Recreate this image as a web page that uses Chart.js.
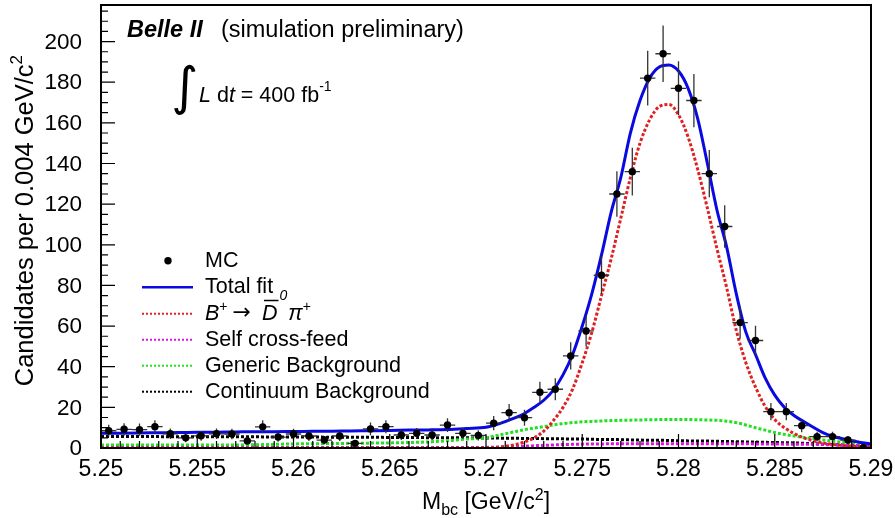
<!DOCTYPE html>
<html>
<head>
<meta charset="utf-8">
<script src="https://cdn.jsdelivr.net/npm/chart.js@4.4.1/dist/chart.umd.min.js"></script>
<style>
  html, body { margin: 0; padding: 0; background: #fff; }
  canvas { display: block; }
</style>
</head>
<body>
<canvas id="c" width="895" height="518"></canvas>
<script>
// ---------------- DATA ----------------
const xTickValues = [5.25, 5.255, 5.26, 5.265, 5.27, 5.275, 5.28, 5.285, 5.29];
const xTickLabels = ["5.25", "5.255", "5.26", "5.265", "5.27", "5.275", "5.28", "5.285", "5.29"];
const yTickValues = [0, 20, 40, 60, 80, 100, 120, 140, 160, 180, 200];
const yTickLabels = ["0", "20", "40", "60", "80", "100", "120", "140", "160", "180", "200"];

// MC histogram (bin centres, contents, errors)
const mcX = [5.2504, 5.2512, 5.2520, 5.2528, 5.2536, 5.2544, 5.2552, 5.2560, 5.2568, 5.2576,
             5.2584, 5.2592, 5.2600, 5.2608, 5.2616, 5.2624, 5.2632, 5.2640, 5.2648, 5.2656,
             5.2664, 5.2672, 5.2680, 5.2688, 5.2696, 5.2704, 5.2712, 5.2720, 5.2728, 5.2736,
             5.2744, 5.2752, 5.2760, 5.2768, 5.2776, 5.2784, 5.2792, 5.2800, 5.2808, 5.2816,
             5.2824, 5.2832, 5.2840, 5.2848, 5.2856, 5.2864, 5.2872, 5.2880, 5.2888, 5.2896];
const mcCounts = [8.5, 9.2, 9.0, 10.5, 7.0, 5.0, 6.0, 7.0, 6.9, 3.5,
                  10.4, 5.4, 6.9, 5.9, 3.9, 5.9, 2.3, 9.4, 10.5, 6.4,
                  7.2, 6.4, 11.3, 7.2, 6.2, 12.2, 17.4, 14.9, 27.4, 28.9,
                  45.3, 57.6, 85, 125, 136, 182, 194, 177, 171, 135,
                  109, 61.7, 52.9, 17.9, 17.9, 11, 5.6, 5.6, 3.9, 0.2];
const mcErr = [2.9, 3.0, 3.0, 3.2, 2.6, 2.2, 2.4, 2.6, 2.6, 1.9,
               3.2, 2.3, 2.6, 2.4, 2.0, 2.4, 1.5, 3.1, 3.2, 2.5,
               2.7, 2.5, 3.4, 2.7, 2.5, 3.5, 4.2, 3.9, 5.2, 5.4,
               6.7, 7.6, 9.2, 11.2, 11.7, 13.5, 13.9, 13.3, 13.1, 11.6,
               10.4, 7.9, 7.3, 4.2, 4.2, 3.3, 2.4, 2.4, 2.0, 0.4];
const binHalfWidth = 0.0004;

// Fit curves sampled at these Mbc values
const curveX = [5.250, 5.251, 5.252, 5.253, 5.254, 5.255, 5.256, 5.257, 5.258, 5.259,
                5.260, 5.261, 5.262, 5.263, 5.264, 5.265, 5.266, 5.267, 5.268, 5.269,
                5.2700, 5.2705, 5.2710, 5.2715, 5.2720, 5.2725, 5.2730, 5.2735, 5.2740, 5.2745,
                5.2750, 5.2755, 5.2760, 5.2765, 5.2770, 5.2775, 5.2780, 5.2785, 5.2790, 5.2795,
                5.2800, 5.2805, 5.2810, 5.2815, 5.2820, 5.2825, 5.2830, 5.2835, 5.2840, 5.2845,
                5.2850, 5.2855, 5.2860, 5.2865, 5.2870, 5.2875, 5.2880, 5.289, 5.290];
const totalFit = [7.2, 7.3, 7.4, 7.5, 7.6, 7.7, 7.8, 7.9, 8.0, 8.0,
                  8.1, 8.2, 8.3, 8.4, 8.5, 8.6, 8.8, 8.9, 9.1, 9.6,
                  10.2, 11.4, 13.0, 14.8, 17.0, 20.0, 23.5, 28.5, 36, 46,
                  60, 76, 95, 116, 133, 155, 171, 182, 187.5, 188.5,
                  185.5, 177, 162, 140, 117, 99, 76, 57, 46, 34.5,
                  26, 20, 16, 13, 10.2, 7.6, 5.8, 3.6, 1.9];
const signal = [0, 0, 0, 0, 0, 0, 0, 0, 0, 0,
                0, 0, 0, 0, 0, 0, 0, 0, 0, 0,
                0.1, 0.3, 0.8, 1.6, 3.0, 5.0, 8.3, 13.5, 20, 29,
                42, 57, 75, 93, 113, 133, 150, 161.5, 168, 169,
                164, 153, 137, 118, 98, 79, 58, 42, 30, 20.5,
                14, 10, 7.2, 5.0, 3.6, 2.5, 1.8, 0.9, 0.4];
const selfCrossFeed = [0.3, 0.3, 0.3, 0.3, 0.3, 0.3, 0.3, 0.3, 0.3, 0.3,
                       0.3, 0.3, 0.3, 0.3, 0.3, 0.3, 0.3, 0.3, 0.3, 0.3,
                       0.3, 0.4, 0.5, 0.7, 0.9, 1.1, 1.3, 1.5, 1.7, 1.8,
                       1.9, 2.0, 2.0, 2.1, 2.1, 2.1, 2.1, 2.1, 2.1, 2.1,
                       2.1, 2.1, 2.1, 2.1, 2.1, 2.1, 2.1, 2.1, 2.0, 2.0,
                       2.0, 1.9, 1.9, 1.8, 1.8, 1.7, 1.5, 1.3, 1.1];
const genericBkg = [1.5, 1.5, 1.5, 1.5, 1.5, 1.5, 1.5, 1.5, 1.6, 1.8,
                    2.0, 2.1, 2.2, 2.3, 2.4, 2.5, 2.7, 3.0, 3.6, 4.4,
                    5.0, 6.0, 7.0, 8.0, 9.0, 9.8, 10.5, 11.4, 12.0, 12.5,
                    12.9, 13.1, 13.3, 13.5, 13.6, 13.7, 13.8, 13.9, 14.0, 14.0,
                    14.0, 14.0, 13.9, 13.8, 13.6, 13.2, 12.5, 11.3, 10.0, 8.8,
                    7.6, 6.7, 5.9, 5.2, 4.6, 4.0, 3.4, 2.4, 1.5];
const continuumBkg = [5.6, 5.6, 5.6, 5.6, 5.5, 5.5, 5.5, 5.5, 5.5, 5.4,
                      5.4, 5.4, 5.3, 5.3, 5.3, 5.2, 5.2, 5.1, 5.1, 5.0,
                      4.9, 4.9, 4.8, 4.8, 4.7, 4.7, 4.6, 4.6, 4.5, 4.4,
                      4.4, 4.3, 4.2, 4.2, 4.1, 4.0, 3.9, 3.8, 3.8, 3.7,
                      3.6, 3.5, 3.4, 3.4, 3.3, 3.2, 3.1, 3.0, 2.9, 2.8,
                      2.7, 2.6, 2.5, 2.3, 2.1, 1.9, 1.7, 1.2, 0.5];

// ---------------- STYLE ----------------
const FAM = '"Liberation Sans", Arial, Helvetica, sans-serif';
const COL = {
  total: '#0a0ae0', signal: '#e02020', self: '#e010e0', generic: '#22e022', cont: '#000000'
};

const pts = (xs, ys) => xs.map((x, i) => ({ x: x, y: ys[i] }));

function drawRuns(ctx, x, y, parts) {
  let cx = x;
  for (const p of parts) {
    ctx.font = p.f;
    ctx.fillText(p.t, cx + (p.dx || 0), y + (p.dy || 0));
    cx += ctx.measureText(p.t).width + (p.dx || 0) + (p.gap || 0);
  }
  return cx - x;
}
function measureRuns(ctx, parts) {
  let w = 0;
  for (const p of parts) { ctx.font = p.f; w += ctx.measureText(p.t).width + (p.dx || 0) + (p.gap || 0); }
  return w;
}

const decor = {
  id: 'decor',
  beforeDatasetDraw(chart, args) {
    if (args.index !== 0) return;
    const ctx = chart.ctx, xs = chart.scales.x, ys = chart.scales.y;
    ctx.save();
    ctx.strokeStyle = '#333';
    ctx.lineWidth = 1.3;
    ctx.beginPath();
    mcX.forEach((x, i) => {
      const px = xs.getPixelForValue(x);
      const py = ys.getPixelForValue(mcCounts[i]);
      const yTop = ys.getPixelForValue(mcCounts[i] + mcErr[i]);
      const yBot = ys.getPixelForValue(Math.max(0, mcCounts[i] - mcErr[i]));
      ctx.moveTo(px, yTop); ctx.lineTo(px, yBot);
      ctx.moveTo(xs.getPixelForValue(x - binHalfWidth), py);
      ctx.lineTo(xs.getPixelForValue(x + binHalfWidth), py);
    });
    ctx.stroke();
    ctx.restore();
  },
  afterDraw(chart) {
    const ctx = chart.ctx, xs = chart.scales.x, ys = chart.scales.y;
    const a = chart.chartArea;
    ctx.save();
    // frame
    ctx.strokeStyle = '#000';
    ctx.lineWidth = 2;
    ctx.strokeRect(a.left, a.top, a.right - a.left, a.bottom - a.top);
    // ticks (inward)
    ctx.lineWidth = 1.2;
    ctx.beginPath();
    xTickValues.forEach(v => {
      const px = xs.getPixelForValue(v);
      ctx.moveTo(px, a.bottom); ctx.lineTo(px, a.bottom - 14);
    });
    for (let k = 0; k <= 40; k++) {
      if (k % 5 === 0) continue;
      const px = xs.getPixelForValue(5.25 + k * 0.001);
      ctx.moveTo(px, a.bottom); ctx.lineTo(px, a.bottom - 7);
    }
    yTickValues.forEach(v => {
      const py = ys.getPixelForValue(v);
      ctx.moveTo(a.left, py); ctx.lineTo(a.left + 14, py);
    });
    for (let k = 0; k <= 43; k++) {
      if (k % 4 === 0) continue;
      const py = ys.getPixelForValue(k * 5);
      ctx.moveTo(a.left, py); ctx.lineTo(a.left + 7, py);
    }
    ctx.stroke();

    ctx.fillStyle = '#000';
    // tick labels
    ctx.font = '23px ' + FAM;
    ctx.textAlign = 'center';
    ctx.textBaseline = 'alphabetic';
    xTickValues.forEach((v, i) => ctx.fillText(xTickLabels[i], xs.getPixelForValue(v), a.bottom + 28));
    ctx.font = '22.5px ' + FAM;
    ctx.textAlign = 'right';
    ctx.textBaseline = 'middle';
    yTickValues.forEach((v, i) => ctx.fillText(yTickLabels[i], a.left - 19, ys.getPixelForValue(v) + 1));

    ctx.textBaseline = 'alphabetic';
    ctx.textAlign = 'left';

    // x title
    const xt = [
      { t: 'M', f: '23px ' + FAM },
      { t: 'bc', f: '16px ' + FAM, dy: 6 },
      { t: ' [GeV/c', f: '23px ' + FAM },
      { t: '2', f: '16px ' + FAM, dy: -9 },
      { t: ']', f: '23px ' + FAM }
    ];
    const xw = measureRuns(ctx, xt);
    drawRuns(ctx, (a.left + a.right) / 2 - xw / 2, 509, xt);

    // y title (rotated)
    const yt = [
      { t: 'Candidates per 0.004 GeV/c', f: '25.5px ' + FAM },
      { t: '2', f: '17px ' + FAM, dy: -11 }
    ];
    const yw = measureRuns(ctx, yt);
    ctx.save();
    ctx.translate(33, 55 + yw);
    ctx.rotate(-Math.PI / 2);
    drawRuns(ctx, 0, 0, yt);
    ctx.restore();

    // header
    ctx.font = 'italic bold 23.5px ' + FAM;
    ctx.fillText('Belle II', 127, 37);
    ctx.font = '23.5px ' + FAM;
    ctx.fillText('(simulation preliminary)', 221, 37);

    // luminosity
    ctx.font = '52px "DejaVu Sans", ' + FAM;
    ctx.fillText('\u222B', 171, 104);
    drawRuns(ctx, 199, 102, [
      { t: 'L', f: 'italic 21.5px ' + FAM },
      { t: ' d', f: '21.5px ' + FAM },
      { t: 't', f: 'italic 21.5px ' + FAM },
      { t: ' = 400 fb', f: '21.5px ' + FAM },
      { t: '-1', f: '14px ' + FAM, dy: -11 }
    ]);

    // legend
    const lx1 = 142, lx2 = 193, tx = 205;
    const LF = '21.5px ' + FAM;
    const rows = [267, 293, 319.5, 345.5, 371.5, 397.5];
    ctx.beginPath();
    ctx.arc(168, rows[0] - 6.3, 3.7, 0, Math.PI * 2);
    ctx.fill();
    ctx.font = LF; ctx.fillText('MC', tx, rows[0]);
    const sample = (row, col, dash, w) => {
      ctx.save();
      ctx.strokeStyle = col; ctx.lineWidth = w; ctx.setLineDash(dash);
      ctx.beginPath(); ctx.moveTo(lx1, row - 5.8); ctx.lineTo(lx2, row - 5.8); ctx.stroke();
      ctx.restore();
    };
    sample(rows[1], COL.total, [], 2.6);
    ctx.font = LF; ctx.fillText('Total fit', tx, rows[1]);
    sample(rows[2], COL.signal, [2, 2], 2);
    {
      const y = rows[2];
      let x = tx;
      ctx.font = 'italic ' + LF; ctx.fillText('B', x, y); x += ctx.measureText('B').width;
      ctx.font = '14px ' + FAM; ctx.fillText('+', x, y - 9); x += ctx.measureText('+').width + 5;
      ctx.font = '22px "DejaVu Sans", ' + FAM; ctx.fillText('\u2192', x, y - 1); x += ctx.measureText('\u2192').width + 11;
      ctx.font = 'italic ' + LF; ctx.fillText('D', x, y);
      const dw = ctx.measureText('D').width;
      ctx.save(); ctx.lineWidth = 1.5; ctx.beginPath();
      ctx.moveTo(x + 2, y - 19); ctx.lineTo(x + dw + 1, y - 19); ctx.stroke(); ctx.restore();
      x += dw + 2;
      ctx.font = 'italic 14px ' + FAM; ctx.fillText('0', x, y - 20); x += ctx.measureText('0').width + 1;
      ctx.font = 'italic ' + LF; ctx.fillText('\u03C0', x, y); x += ctx.measureText('\u03C0').width;
      ctx.font = '14px ' + FAM; ctx.fillText('+', x, y - 9);
    }
    sample(rows[3], COL.self, [2, 2], 2);
    ctx.font = LF; ctx.fillText('Self cross-feed', tx, rows[3]);
    sample(rows[4], COL.generic, [2, 2], 2);
    ctx.font = LF; ctx.fillText('Generic Background', tx, rows[4]);
    sample(rows[5], COL.cont, [2, 2], 2);
    ctx.font = LF; ctx.fillText('Continuum Background', tx, rows[5]);

    ctx.restore();
  }
};

const lineDs = (label, ys, color, dash, order) => ({
  label: label,
  data: pts(curveX, ys),
  showLine: true,
  pointRadius: 0,
  borderColor: color,
  borderWidth: 3,
  borderDash: dash,
  cubicInterpolationMode: 'monotone',
  fill: false,
  order: order
});

new Chart(document.getElementById('c'), {
  type: 'scatter',
  data: {
    datasets: [
      {
        label: 'MC',
        data: pts(mcX, mcCounts),
        pointRadius: 3.7,
        pointBackgroundColor: '#000',
        pointBorderColor: '#000',
        pointBorderWidth: 0,
        showLine: false,
        order: 0
      },
      lineDs('Total fit', totalFit, COL.total, [], 1),
      lineDs('Signal', signal, COL.signal, [3, 2], 2),
      lineDs('Self cross-feed', selfCrossFeed, COL.self, [3, 2], 3),
      lineDs('Generic Background', genericBkg, COL.generic, [3, 2], 4),
      lineDs('Continuum Background', continuumBkg, COL.cont, [3, 2], 5)
    ]
  },
  options: {
    responsive: false,
    animation: false,
    events: [],
    layout: { padding: { left: 0, right: 24, top: 5, bottom: 0 } },
    plugins: { legend: { display: false }, tooltip: { enabled: false }, title: { display: false } },
    scales: {
      x: {
        type: 'linear', min: 5.25, max: 5.29,
        afterFit: s => { s.height = 70; },
        afterBuildTicks: s => { s.ticks = xTickValues.map(v => ({ value: v })); },
        ticks: { display: false },
        grid: { display: false, drawTicks: false },
        border: { display: false }
      },
      y: {
        type: 'linear', min: 0, max: 218,
        afterFit: s => { s.width = 101; },
        afterBuildTicks: s => { s.ticks = yTickValues.map(v => ({ value: v })); },
        ticks: { display: false },
        grid: { display: false, drawTicks: false },
        border: { display: false }
      }
    }
  },
  plugins: [decor]
});
</script>
</body>
</html>
